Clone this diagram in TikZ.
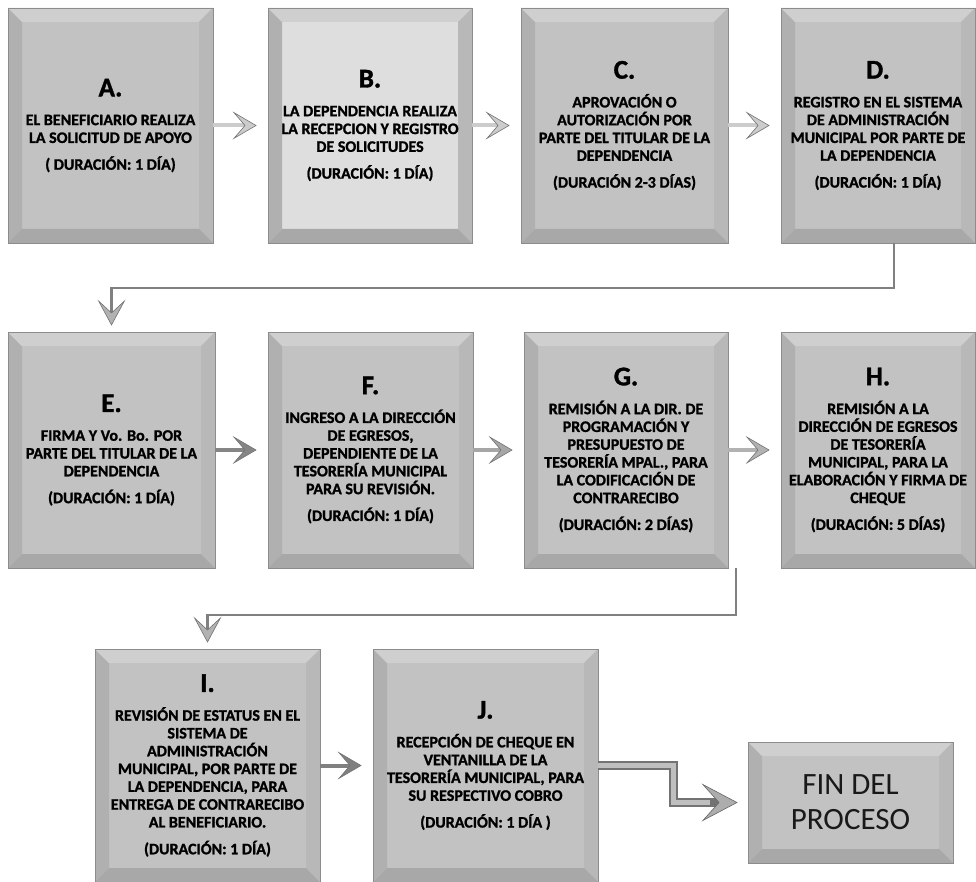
\documentclass[tikz,border=0pt]{standalone}
\usepackage{fontspec}
\setmainfont{Carlito}[BoldFeatures={FakeBold=1.3}]
\usetikzlibrary{arrows.meta,calc}
\newcommand{\boxtext}[3]{{\fontsize{27}{27}\selectfont #1}\\[11pt] #2\\[9pt] #3}
\tikzset{
  bevel/.style={path picture={
    \coordinate (pa) at (path picture bounding box.south west);
    \coordinate (pb) at (path picture bounding box.north east);
    \coordinate (qa) at ($(pa)+(14pt,14pt)$);
    \coordinate (qb) at ($(pb)+(-14pt,-14pt)$);
    \fill[black!31] (pa) -- (pa|-pb) -- (qa|-qb) -- (qa) -- cycle;
    \fill[black!19] (pa|-pb) -- (pb) -- (qb) -- (qa|-qb) -- cycle;
    \fill[black!28] (pb) -- (pb|-pa) -- (qb|-qa) -- (qb) -- cycle;
    \fill[black!34] (pb|-pa) -- (pa) -- (qa) -- (qb|-qa) -- cycle;
  }},
  stepbox/.style={draw=black!45, line width=0.8pt, fill=black!24, inner sep=2pt,
    align=center, text=black, font=\bfseries\fontsize{16}{17.8}\selectfont, bevel},
  lightbox/.style={stepbox, fill=black!13},
  finbox/.style={stepbox, font=\fontsize{31}{35}\selectfont, text=black!90},
  chev/.style={-{Stealth[length=24pt,width=28pt,inset=12pt,line width=0.6pt,fill=#1,color=black!55]},
    draw=#1, line width=4pt, shorten >=11pt},
  flowline/.style={draw=black!50, line width=2.5pt,
    -{Stealth[length=26pt,width=28pt,inset=13pt,line width=0.6pt,fill=black!30,color=black!55]},
    shorten >=6pt},
}
\begin{document}
\begin{tikzpicture}[x=1pt,y=-1pt]
\useasboundingbox[fill=white] (0,0) rectangle (976,882);

% row 1
\node[stepbox, minimum width=205pt, minimum height=235pt] (A) at (110.5,125.5)
  {\boxtext{A.}{EL BENEFICIARIO REALIZA\\LA SOLICITUD DE APOYO}{( DURACIÓN: 1 DÍA)}};
\node[lightbox, minimum width=204pt, minimum height=235pt] (B) at (370,125.5)
  {\boxtext{B.}{LA DEPENDENCIA REALIZA\\LA RECEPCION Y REGISTRO\\DE SOLICITUDES}{(DURACIÓN: 1 DÍA)}};
\node[stepbox, minimum width=207pt, minimum height=235pt] (C) at (624.5,125.5)
  {\boxtext{C.}{APROVACIÓN O\\AUTORIZACIÓN POR\\PARTE DEL TITULAR DE LA\\DEPENDENCIA}{(DURACIÓN 2-3 DÍAS)}};
\node[stepbox, minimum width=194pt, minimum height=235pt] (D) at (878,125.5)
  {\boxtext{D.}{REGISTRO EN EL SISTEMA\\DE ADMINISTRACIÓN\\MUNICIPAL POR PARTE DE\\LA DEPENDENCIA}{(DURACIÓN: 1 DÍA)}};

% row 2
\node[stepbox, minimum width=207pt, minimum height=236pt] (E) at (111.5,450)
  {\boxtext{E.}{FIRMA Y Vo. Bo. POR\\PARTE DEL TITULAR DE LA\\DEPENDENCIA}{(DURACIÓN: 1 DÍA)}};
\node[stepbox, minimum width=205pt, minimum height=236pt] (F) at (370.5,450)
  {\boxtext{F.}{INGRESO A LA DIRECCIÓN\\DE EGRESOS,\\DEPENDIENTE DE LA\\TESORERÍA MUNICIPAL\\PARA SU REVISIÓN.}{(DURACIÓN: 1 DÍA)}};
\node[stepbox, minimum width=204pt, minimum height=236pt] (G) at (626,450)
  {\boxtext{G.}{REMISIÓN A LA DIR. DE\\PROGRAMACIÓN Y\\PRESUPUESTO DE\\TESORERÍA MPAL., PARA\\LA CODIFICACIÓN DE\\CONTRARECIBO}{(DURACIÓN: 2 DÍAS)}};
\node[stepbox, minimum width=194pt, minimum height=236pt] (H) at (878,450)
  {\boxtext{H.}{REMISIÓN A LA\\DIRECCIÓN DE EGRESOS\\DE TESORERÍA\\MUNICIPAL, PARA LA\\ELABORACIÓN Y FIRMA DE\\CHEQUE}{(DURACIÓN: 5 DÍAS)}};

% row 3
\node[stepbox, minimum width=225pt, minimum height=233pt] (I) at (207.5,765.5)
  {\boxtext{I.}{REVISIÓN DE ESTATUS EN EL\\SISTEMA DE\\ADMINISTRACIÓN\\MUNICIPAL, POR PARTE DE\\LA DEPENDENCIA, PARA\\ENTREGA DE CONTRARECIBO\\AL BENEFICIARIO.}{(DURACIÓN: 1 DÍA)}};
\node[stepbox, minimum width=225pt, minimum height=233pt] (J) at (485.5,765.5)
  {\boxtext{J.}{RECEPCIÓN DE CHEQUE EN\\VENTANILLA DE LA\\TESORERÍA MUNICIPAL, PARA\\SU RESPECTIVO COBRO}{(DURACIÓN: 1 DÍA )}};
\node[finbox, minimum width=205pt, minimum height=121pt] (FIN) at (850.5,802.5)
  {FIN DEL\\PROCESO};

% horizontal arrows
\draw[chev=black!20] (A) -- (B);
\draw[chev=black!20] (B) -- (C);
\draw[chev=black!20] (C) -- (D);
\draw[chev=black!48] (E) -- (F);
\draw[chev=black!35] (F) -- (G);
\draw[chev=black!30] (G) -- (H);
\draw[chev=black!50] (I) -- (J);

% row connectors
\coordinate (d1) at (894,288);
\draw[flowline] (D.south -| d1) -- (d1) -| (E.north);
\coordinate (g1) at (736,615);
\draw[flowline] (G.south -| g1) -- (g1) -| (I.north);

% final elbow arrow
\coordinate (j1) at (673,784);
\draw[draw=black!55, line width=9pt,
  -{Stealth[length=36pt,width=38pt,inset=17pt,line width=0.6pt,fill=black!32,color=black!60]},
  shorten >=10pt] (J.east) -| (j1) |- (FIN.west);
\draw[draw=black!25, line width=5pt, shorten >=38pt] (J.east) -| (j1) |- (FIN.west);
\end{tikzpicture}
\end{document}
